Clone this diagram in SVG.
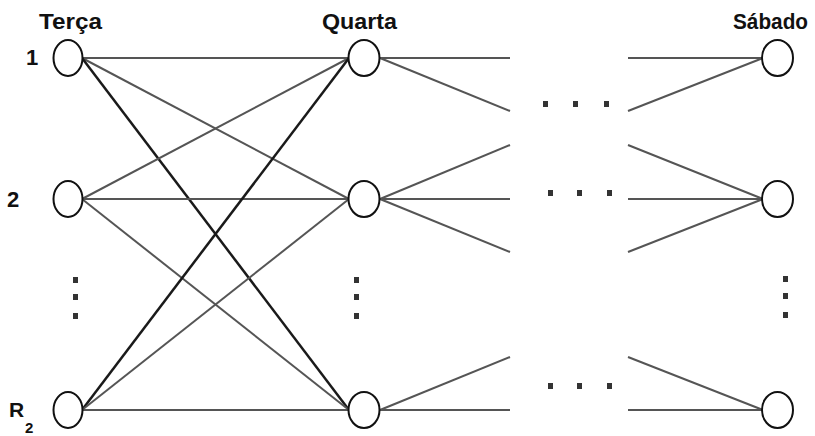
<svg xmlns="http://www.w3.org/2000/svg" width="815" height="436" viewBox="0 0 815 436">
<style>
.e{stroke:#555;stroke-width:2;fill:none}
.d{stroke:#1a1a1a;stroke-width:2.5;fill:none}
.n{fill:#fff;stroke:#111;stroke-width:2}
.t{font-family:"Liberation Sans",Arial,sans-serif;font-weight:bold;fill:#111}
.dot{fill:#333}
</style>
<rect width="815" height="436" fill="#fff"/>
<g id="connectors">
<line class="e" x1="82" y1="58" x2="349" y2="58"/>
<line class="e" x1="82" y1="58" x2="349" y2="199"/>
<line class="d" x1="82" y1="58" x2="349" y2="410"/>
<line class="e" x1="82" y1="199" x2="349" y2="58"/>
<line class="e" x1="82" y1="199" x2="349" y2="199"/>
<line class="e" x1="82" y1="199" x2="349" y2="410"/>
<line class="d" x1="82" y1="410" x2="349" y2="58"/>
<line class="e" x1="82" y1="410" x2="349" y2="199"/>
<line class="e" x1="82" y1="410" x2="349" y2="410"/>
<line class="e" x1="380" y1="58" x2="510" y2="58"/>
<line class="e" x1="380" y1="58" x2="510" y2="111"/>
<line class="e" x1="380" y1="199" x2="510" y2="145"/>
<line class="e" x1="380" y1="199" x2="510" y2="199"/>
<line class="e" x1="380" y1="199" x2="510" y2="252"/>
<line class="e" x1="380" y1="410" x2="510" y2="357"/>
<line class="e" x1="380" y1="410" x2="510" y2="410"/>
<line class="e" x1="628" y1="58" x2="763" y2="58"/>
<line class="e" x1="628" y1="111" x2="763" y2="58"/>
<line class="e" x1="628" y1="145" x2="763" y2="199"/>
<line class="e" x1="628" y1="199" x2="763" y2="199"/>
<line class="e" x1="628" y1="252" x2="763" y2="199"/>
<line class="e" x1="628" y1="357" x2="763" y2="410"/>
<line class="e" x1="628" y1="410" x2="763" y2="410"/>
</g>
<g id="dots">
<rect class="dot" x="543" y="101" width="5" height="6"/>
<rect class="dot" x="573" y="101" width="5" height="6"/>
<rect class="dot" x="604" y="101" width="5" height="6"/>
<rect class="dot" x="548" y="190" width="5" height="6"/>
<rect class="dot" x="577" y="190" width="5" height="6"/>
<rect class="dot" x="607" y="190" width="5" height="6"/>
<rect class="dot" x="548" y="383" width="5" height="6"/>
<rect class="dot" x="577" y="383" width="5" height="6"/>
<rect class="dot" x="607" y="383" width="5" height="6"/>
<rect class="dot" x="73" y="277" width="5" height="6"/>
<rect class="dot" x="73" y="294" width="5" height="6"/>
<rect class="dot" x="73" y="313" width="5" height="6"/>
<rect class="dot" x="354" y="277" width="5" height="6"/>
<rect class="dot" x="354" y="294" width="5" height="6"/>
<rect class="dot" x="354" y="313" width="5" height="6"/>
<rect class="dot" x="783" y="276" width="5" height="6"/>
<rect class="dot" x="783" y="293" width="5" height="6"/>
<rect class="dot" x="783" y="312" width="5" height="6"/>
</g>
<g id="labels">
<text class="t" x="39" y="29" font-size="22" textLength="63" lengthAdjust="spacingAndGlyphs">Terça</text>
<text class="t" x="322" y="29" font-size="22" textLength="75" lengthAdjust="spacingAndGlyphs">Quarta</text>
<text class="t" x="733" y="29" font-size="22" textLength="75" lengthAdjust="spacingAndGlyphs">Sábado</text>
<text class="t" x="26" y="65" font-size="22">1</text>
<text class="t" x="7" y="207" font-size="22">2</text>
<text class="t" x="9" y="417" font-size="21">R</text>
<text class="t" x="25" y="433" font-size="15">2</text>
</g>
<g id="t1"><ellipse class="n" cx="68" cy="58" rx="14.5" ry="18"/></g>
<g id="t2"><ellipse class="n" cx="68" cy="199" rx="14.5" ry="18"/></g>
<g id="tR2"><ellipse class="n" cx="68" cy="410" rx="14.5" ry="18"/></g>
<g id="q1"><ellipse class="n" cx="364" cy="58" rx="15.5" ry="18"/></g>
<g id="q2"><ellipse class="n" cx="364" cy="199" rx="15.5" ry="18"/></g>
<g id="qR2"><ellipse class="n" cx="364" cy="410" rx="15.5" ry="18"/></g>
<g id="s1"><ellipse class="n" cx="777.5" cy="58" rx="15.5" ry="18"/></g>
<g id="s2"><ellipse class="n" cx="777.5" cy="199" rx="15.5" ry="18"/></g>
<g id="sR2"><ellipse class="n" cx="777.5" cy="410" rx="15.5" ry="18"/></g>
</svg>
